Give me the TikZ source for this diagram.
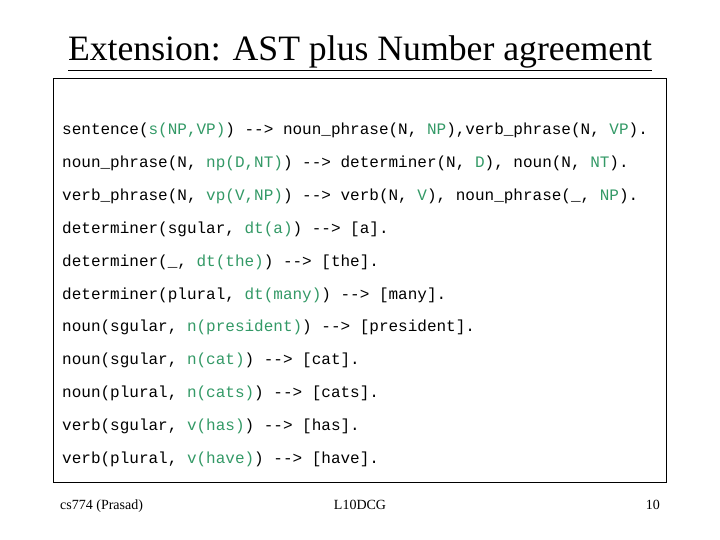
\documentclass[tikz,border=0pt]{standalone}
\usepackage{fontspec}
\setmainfont{Liberation Serif}
\newfontfamily\cfont{Liberation Mono}
\usepackage{xcolor}
\definecolor{gr}{HTML}{339966}
\newcommand{\g}[1]{\textcolor{gr}{#1}}
\begin{document}
\begin{tikzpicture}[x=1pt,y=-1pt,
  code/.style={anchor=base west,inner sep=0pt,font=\cfont\fontsize{16}{18}\selectfont},
  foot/.style={anchor=base,inner sep=0pt,font=\fontsize{14}{16}\selectfont}]
\useasboundingbox (0,0) rectangle (720,540);
\node[anchor=base,inner sep=0pt,font=\fontsize{35.7}{40}\selectfont] (title) at (360,61) {\underline{Extension: AST plus Number agreement}};
\draw[line width=0.8pt] (53,78) rectangle (666,482);
\foreach \i/\t in {
 0/{sentence(\g{s(NP,VP)}) -{}-> noun\_phrase(N, \g{NP}),verb\_phrase(N, \g{VP}).},
 1/{noun\_phrase(N, \g{np(D,NT)}) -{}-> determiner(N, \g{D}), noun(N, \g{NT}).},
 2/{verb\_phrase(N, \g{vp(V,NP)}) -{}-> verb(N, \g{V}), noun\_phrase(\_, \g{NP}).},
 3/{determiner(sgular, \g{dt(a)}) -{}-> [a].},
 4/{determiner(\_, \g{dt(the)}) -{}-> [the].},
 5/{determiner(plural, \g{dt(many)}) -{}-> [many].},
 6/{noun(sgular, \g{n(president)}) -{}-> [president].},
 7/{noun(sgular, \g{n(cat)}) -{}-> [cat].},
 8/{noun(plural, \g{n(cats)}) -{}-> [cats].},
 9/{verb(sgular, \g{v(has)}) -{}-> [has].},
 10/{verb(plural, \g{v(have)}) -{}-> [have].}}
  \node[code] (l\i) at (62,{135+32.8*\i}) {\t};
\node[foot,anchor=base west] (f1) at (60,509) {cs774 (Prasad)};
\node[foot] (f2) at (360,509) {L10DCG};
\node[foot,anchor=base east] (f3) at (660,509) {10};
\end{tikzpicture}
\end{document}
